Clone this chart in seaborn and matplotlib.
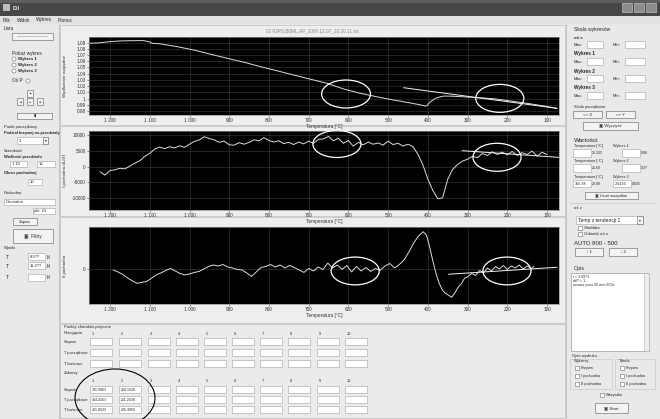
import matplotlib
matplotlib.use("Agg")
import matplotlib.pyplot as plt
import seaborn as sns
import pandas as pd
from matplotlib.patches import Rectangle, Ellipse, Circle

# ---------------- data ----------------
temp_ticks = [1200, 1100, 1000, 900, 800, 700, 600, 500, 400, 300, 200, 100]
temp_tick_labels = ["1 200", "1 100", "1 000", "900", "800", "700",
                    "600", "500", "400", "300", "200", "100"]

# relative elongation vs temperature (cooling run)
dil_T = [1252, 1230, 1200, 1175, 1150, 1116, 1100, 1095, 1074, 1030, 990, 950,
         906, 860, 822, 780, 738, 700, 654, 612, 570, 530, 486, 450, 420, 407,
         402, 398, 390, 381, 370, 360, 340, 318, 290, 260, 234, 200, 150, 110, 75]
dil_val = [1.0890, 1.0895, 1.0915, 1.0927, 1.0930, 1.0932, 1.0912, 1.0890, 1.0880,
           1.0833, 1.0782, 1.0718, 1.0649, 1.0580, 1.0513, 1.0447, 1.0379, 1.0318,
           1.0245, 1.0153, 1.0084, 1.0030, 0.9976, 0.9935, 0.9900, 0.9879, 0.9885,
           0.9922, 0.9965, 1.0003, 1.0025, 1.0040, 1.0038, 1.0030, 1.0020, 1.0008,
           0.9997, 0.9968, 0.9922, 0.9882, 0.9842]
dil_tan_T = [461, 75]
dil_tan_val = [1.0174, 0.9842]
dil_ticks = [1.09, 1.08, 1.07, 1.06, 1.05, 1.04, 1.03, 1.02, 1.01, 1.00, 0.99, 0.98]
dil_tick_labels = ["1.09", "1.08", "1.07", "1.06", "1.05", "1.04", "1.03", "1.02",
                   "1.01", "1", "0.99", "0.98"]

# first derivative
d1_T = [1225, 1213, 1200, 1188, 1175, 1163, 1150, 1138, 1125, 1113, 1100, 1088,
        1075, 1063, 1050, 1038, 1025, 1013, 1000, 988, 975, 963, 950, 938, 925,
        913, 900, 888, 875, 863, 850, 838, 825, 813, 800, 788, 775, 763, 750, 738,
        725, 713, 700, 688, 675, 663, 650, 638, 625, 613, 600, 588, 575, 563, 550,
        538, 525, 513, 500, 488, 475, 463, 450, 438, 425, 413, 400, 388, 375, 363,
        350, 338, 325, 313, 300, 288, 275, 263, 250, 238, 225, 213, 200, 188, 175,
        163, 150, 138, 125, 113, 100]
d1_val = [-1600, -2700, -1200, -1000, -500, -700, 200, 1100, 1900, 3300, 4300, 5600,
          6300, 5800, 6400, 6000, 6700, 6200, 7200, 8100, 8600, 9600, 9000, 8600, 7800,
          8200, 7000, 6900, 7700, 7200, 7800, 8600, 8300, 9300, 8400, 7900, 8300, 7400,
          7800, 7100, 7900, 7300, 8200, 7500, 8800, 8900, 9700, 8300, 9100, 7500, 8400,
          6600, 7800, 7000, 7900, 7200, 7600, 6900, 8200, 7100, 7500, 6600, 7200, 6500,
          4000, 700, -4000, -7500, -10300, -10000, -4000, -900, 700, 1800, 2400, 3300,
          2900, 4200, 3600, 4800, 3900, 4700, 3800, 4900, 3600, 4500, 3900, 5000, 3400,
          4600, 3900]
d1_tan_T = [314, 71]
d1_tan_val = [5130, 3000]
d1_ticks = [10000, 5000, 0, -5000, -10000]
d1_tick_labels = ["10000", "5000", "0", "-5000", "-10000"]

# second derivative
d2_T = [1192, 1180, 1168, 1156, 1144, 1132, 1120, 1108, 1096, 1084, 1072, 1060,
        1048, 1036, 1024, 1012, 1000, 988, 976, 964, 952, 940, 928, 916, 904, 892,
        880, 868, 856, 844, 832, 820, 808, 796, 784, 772, 760, 748, 736, 724, 712,
        700, 688, 676, 664, 652, 640, 628, 616, 604, 592, 580, 568, 556, 544, 532,
        520, 508, 496, 484, 472, 460, 448, 436, 424, 412, 404, 396, 388, 380, 372,
        364, 356, 348, 340, 332, 324, 316, 308, 300, 290, 280, 270, 260, 250, 240,
        230, 220, 210, 200, 190, 180, 170, 160, 150, 140, 133]
d2_val = [-10, -30, -55, -90, -120, -145, -135, -125, -95, -60, -40, -15, 5, -20,
          -45, -60, -50, -35, -25, 0, 25, 40, 30, 45, 20, 10, -5, -10, -40, -75, -30,
          15, 25, 45, 20, 40, 10, 35, 15, -10, -35, 5, -20, 20, -5, 60, 10, 40, -5, 35,
          -30, 25, -20, 15, -25, 5, -15, 30, 55, 10, 45, 90, 170, 260, 330, 375, 345,
          230, 90, -40, -140, -210, -245, -265, -285, -240, -185, -150, -95, -80, -45,
          -65, -15, -40, 10, -20, 25, 0, 35, -5, 30, 10, 40, 0, 30, 5, 25]
d2_tan_T = [348, 75]
d2_tan_val = [-53, 17]

# highlighted regions: (temperature, value, width [deg C], height)
dil_marks = [(606, 1.0073, 123, 0.045), (219, 1.0003, 121, 0.045)]
d1_marks = [(629, 7275, 121, 8650), (226, 3013, 121, 8980)]
d2_marks = [(583, -20, 121, 280), (201, -20, 121, 280)]

range_values = [["341.9863", "218.1520"],
                ["404.4163", "211.2638"],
                ["401.8523", "205.3850"]]

# ---------------- style ----------------
sns.set_theme(style="dark", rc={
    "axes.facecolor": "black",
    "figure.facecolor": "#e9e9e9",
    "axes.edgecolor": "#8c8c8c",
    "axes.linewidth": 0.5,
    "xtick.color": "#333333",
    "ytick.color": "#333333",
    "xtick.labelsize": 3.4,
    "ytick.labelsize": 3.4,
    "xtick.major.size": 1.2,
    "ytick.major.size": 1.2,
    "xtick.major.width": 0.4,
    "ytick.major.width": 0.4,
    "xtick.major.pad": 1.2,
    "ytick.major.pad": 1.2,
    "xtick.bottom": True,
    "ytick.left": True,
})
plt.rcParams["font.family"] = ["Liberation Sans", "DejaVu Sans"]

W, H = 660, 419
fig = plt.figure(figsize=(W / 100, H / 100), dpi=100)

# window chrome drawn in pixel coordinates
g = fig.add_axes([0, 0, 1, 1], zorder=0)
g.set_xlim(0, W)
g.set_ylim(H, 0)
g.axis("off")

TXT = "#262626"


def rect(x, y, w, h, fc="white", ec="#9a9a9a", lw=0.5, z=1):
    g.add_patch(Rectangle((x, y), w, h, facecolor=fc, edgecolor=ec, lw=lw, zorder=z))


def txt(x, y, s, size=3.4, color=TXT, ha="left", weight="normal"):
    g.text(x, y, s, fontsize=size, color=color, ha=ha, va="center", weight=weight, zorder=3)


def button(x, y, w, h, s="", size=3.2):
    rect(x, y, w, h, fc="#f3f3f3", ec="#7a7a7a", lw=0.5)
    if s:
        txt(x + w / 2, y + h / 2, s, size=size, ha="center")


def field(x, y, w, h=7, s="", size=3.0):
    rect(x, y, w, h, fc="white", ec="#a0a0a0", lw=0.4)
    if s:
        txt(x + 1.5, y + h / 2, s, size=size)


def checkbox(x, y, s, size=3.2):
    rect(x, y - 2, 4, 4, fc="white", ec="#6e6e6e", lw=0.4)
    txt(x + 6, y, s, size=size)


def radio(x, y, s, size=3.2):
    g.add_patch(Circle((x, y), 2, facecolor="white", edgecolor="#6e6e6e", lw=0.4, zorder=2))
    txt(x + 4, y, s, size=size, weight="bold")


# title bar and menu
rect(0, 0, W, 16, fc="#474747", ec="none")
rect(0, 0, W, 3, fc="#5e5e5e", ec="none")
rect(3, 4, 7, 7, fc="#bdbdbd", ec="none")
txt(13, 8, "Dil", size=4, color="#f0f0f0", weight="bold")
for bx in (622, 634, 646):
    rect(bx, 3.5, 10, 9, fc="#8c8c8c", ec="#d0d0d0", lw=0.4)
rect(0, 16, W, 8, fc="#e2e2e2", ec="none")
for mx, m in ((3, "Plik"), (17, "Widok"), (36, "Wykres"), (58, "Pomoc")):
    txt(mx, 20, m, size=3.4)

# panel frames
g.plot([58.5, 58.5], [24, H], color="#bcbcbc", lw=0.6)
g.plot([566, 566], [24, H], color="#bcbcbc", lw=0.6)
rect(60, 25, 505, 100, fc="#eeeeee", ec="#c6c6c6", lw=0.6)
rect(60, 126, 505, 90, fc="#eeeeee", ec="#c6c6c6", lw=0.6)
rect(60, 217, 505, 106, fc="#eeeeee", ec="#c6c6c6", lw=0.6)
rect(60, 324, 505, 94, fc="#ebebeb", ec="#c6c6c6", lw=0.6)

# left controls
txt(4, 29, "Lista")
button(12, 33, 41, 7, "———————")
txt(12, 53, "Pokaż wykres")
radio(14, 59, "Wykres 1")
radio(14, 65, "Wykres 2")
radio(14, 71, "Wykres 3")
txt(12, 81, "Oś P")
g.add_patch(Circle((28, 81), 2, facecolor="white", edgecolor="#6e6e6e", lw=0.4, zorder=2))
button(27, 90, 6, 7, "▲", size=2.4)
button(17, 98, 6, 7, "◄", size=2.4)
button(27, 98, 6, 7, "●", size=2.4)
button(37, 98, 6, 7, "►", size=2.4)
button(17, 113, 35, 6, "▮", size=3)
txt(4, 127, "Punkt początkowy", size=3.0)
txt(4, 133, "Podział krzywej na przedziały", size=2.9, weight="bold")
field(17, 137, 31, 7, "1")
button(43, 137, 5, 7, "▾", size=2.6)
txt(4, 151, "Szerokość", size=3.0)
txt(4, 157, "Wielkość przedziału", size=2.9, weight="bold")
field(10, 161, 17, 6, "1 10")
field(37, 161, 18, 6, "10")
txt(4, 173, "Okres pochodnej", size=2.9, weight="bold")
field(28, 179, 14, 6, "10")
txt(4, 193, "Pochodna", size=3.0)
field(4, 199, 51, 6, "Centralna")
field(33, 208, 22, 6, "pkt  21")
button(13, 218, 24, 7, "Zapisz", size=3.0)
button(13, 229, 40, 14, "▣  Filtry", size=3.4)
txt(4, 248, "Wyniki", size=3.0)
txt(6, 257, "T", size=3.6)
field(28, 253, 17, 7, "8.3??")
txt(47, 257, "[s]", size=2.8)
txt(6, 266, "T", size=3.6)
field(28, 262, 17, 7, "11.2??")
txt(47, 266, "[s]", size=2.8)
txt(6, 277, "T", size=3.6)
field(28, 274, 17, 7, "")
txt(47, 277, "[s]", size=2.8)

# right controls
txt(574, 30, "Skala wykresów", size=3.6)
txt(574, 38, "oś x", weight="bold", size=3.2)
for yy, lab in ((45, None), (62, "Wykres 1"), (79, "Wykres 2"), (96, "Wykres 3")):
    if lab:
        txt(574, yy - 8, lab, weight="bold", size=3.4)
    txt(574, yy, "Max:", size=3.0)
    field(587, yy - 3.5, 16, 7)
    txt(613, yy, "Min:", size=3.0)
    field(625, yy - 3.5, 20, 7)
txt(574, 107, "Skala początkowa", size=2.8)
button(573, 111, 29, 7, "<< X")
button(606, 111, 29, 7, ">> Y")
button(583, 122, 55, 8, "▣ Wyczyść")
txt(574, 140, "Wartości", size=4.6)
for yy, lab in ((146, "Wykres 1"), (161, "Wykres 2"), (177, "Wykres 3")):
    txt(574, yy, "Temperatura [°C]", size=2.7)
    txt(613, yy, lab, size=2.7)
field(573, 149, 18, 8)
txt(592, 153, "22.102", size=2.5)
field(622, 149, 18, 8)
txt(641, 153, "0.98", size=2.5)
field(573, 164, 18, 8)
txt(592, 168, "21.60", size=2.5)
field(622, 164, 18, 8)
txt(641, 168, "0.37", size=2.5)
field(573, 180, 18, 7, "355.38", size=2.7)
txt(592, 183.5, "22.08", size=2.5)
field(613, 180, 18, 7, "2.5416", size=2.7)
txt(632, 183.5, "0.035", size=2.5)
button(585, 192, 53, 7, "▣ Usuń wszystkie", size=2.9)
g.plot([570, 656], [203, 203], color="#c4c4c4", lw=0.5)
txt(574, 208, "oś z", size=3.2)
field(576, 216, 67, 8, "Temp z tendencji 1", size=3.6)
button(637, 216, 6, 8, "▾", size=2.6)
checkbox(578, 228, "Obróbka")
checkbox(578, 234, "Odwróć oś x")
txt(574, 243, "AUTO 800 - 500", size=4.3)
button(575, 248, 28, 8, "↑ 1")
button(609, 248, 28, 8, "↓ 2")
txt(574, 268, "Opis", size=3.8)
rect(571, 273, 78, 78, fc="white", ec="#9a9a9a", lw=0.5)
rect(644, 273, 5, 78, fc="#ececec", ec="#b0b0b0", lw=0.4)
txt(573, 277, "t = 3.5971", size=2.6)
txt(573, 281, "dt/T = 1", size=2.6)
txt(573, 285, "oznacz pass 50 mm 600s", size=2.6)
txt(572, 356, "Opis wydruku", size=3.0)
rect(570, 359, 42, 30, fc="none", ec="#c0c0c0", lw=0.4)
rect(615, 359, 40, 30, fc="none", ec="#c0c0c0", lw=0.4)
txt(574, 361, "Wykresy", size=2.9)
txt(619, 361, "Tabela", size=2.9)
for i, s in enumerate(["Krzywa", "I pochodna", "II pochodna"]):
    checkbox(575, 368 + 8 * i, s, size=2.8)
    checkbox(620, 368 + 8 * i, s, size=2.8)
checkbox(600, 395, "Wszystko", size=2.9)
button(595, 403, 33, 10, "▣ Start", size=3.2)

# table of characteristic points
col_x = [90, 119, 148, 176, 204, 232, 260, 288, 317, 345]
row_labels = ["Stopnie", "T początkowe", "T końcowe"]
txt(64, 327, "Punkty charakterystyczne", size=3.0)
txt(64, 333, "Przegięcia", size=3.0)
for j, cx in enumerate(col_x):
    txt(cx + 2, 334, str(j + 1), size=2.8)
for i, lab in enumerate(row_labels):
    yy = 338 + 11 * i
    txt(64, yy + 3.5, lab, size=2.8)
    for cx in col_x:
        field(cx, yy, 22, 7)
txt(64, 373, "Zakresy", size=3.0)
for j, cx in enumerate(col_x):
    txt(cx + 2, 381, str(j + 1), size=2.8)
for i, lab in enumerate(row_labels):
    yy = 386 + 10 * i
    txt(64, yy + 3.5, lab, size=2.8)
    for j, cx in enumerate(col_x):
        field(cx, yy, 22, 7, range_values[i][j] if j < 2 else "", size=2.6)
g.add_patch(Ellipse((115, 398), 80, 58, facecolor="none", edgecolor="black", lw=0.8, zorder=4))

# plot title
txt(312, 31, "02 03PS,B0ML,AP_2006.12.07_10.20.11.txt", size=3.4, color="#8a8a8a", ha="center")


# ---------------- plots ----------------
def px_axes(x0, y0, x1, y1):
    return fig.add_axes([x0 / W, 1 - y1 / H, (x1 - x0) / W, (y1 - y0) / H], zorder=2)


def draw(ax, T, vals, tan_T, tan_vals, marks, ylim, yticks, ylabels, ylabel):
    df = pd.DataFrame({"T": T, "v": vals})
    sns.lineplot(data=df, x="T", y="v", ax=ax, color="#dcdcdc", lw=0.7, estimator=None)
    tdf = pd.DataFrame({"T": tan_T, "v": tan_vals})
    sns.lineplot(data=tdf, x="T", y="v", ax=ax, color="#f4f4f4", lw=0.7, estimator=None)
    for (mt, mv, mw, mh) in marks:
        ax.add_patch(Ellipse((mt, mv), mw, mh, facecolor="none", edgecolor="white", lw=0.9, zorder=5))
    ax.set_xlim(1253, 70)
    ax.set_ylim(*ylim)
    ax.set_xticks(temp_ticks)
    ax.set_xticklabels(temp_tick_labels)
    ax.set_yticks(yticks)
    ax.set_yticklabels(ylabels)
    ax.grid(True, color="#3c3c3c", lw=0.4)
    ax.set_xlabel("Temperatura [°C]", fontsize=3.4, labelpad=0.6, color="#333333")
    ax.set_ylabel(ylabel, fontsize=3.2, color="#333333")
    ax.yaxis.set_label_coords(-0.047, 0.5)
    for s in ax.spines.values():
        s.set_color("#8c8c8c")
        s.set_linewidth(0.5)


ax1 = px_axes(89, 37, 559, 115)
draw(ax1, dil_T, dil_val, dil_tan_T, dil_tan_val, dil_marks, (0.9735, 1.099),
     dil_ticks, dil_tick_labels, "Wydłużenie względne")

ax2 = px_axes(89, 131, 559, 210)
draw(ax2, d1_T, d1_val, d1_tan_T, d1_tan_val, d1_marks, (-13880, 11440),
     d1_ticks, d1_tick_labels, "I pochodna dL/dT")

ax3 = px_axes(89, 227, 559, 304)
draw(ax3, d2_T, d2_val, d2_tan_T, d2_tan_val, d2_marks, (-353, 423),
     [0], ["0"], "II pochodna")

fig.savefig("out.png", dpi=100)
